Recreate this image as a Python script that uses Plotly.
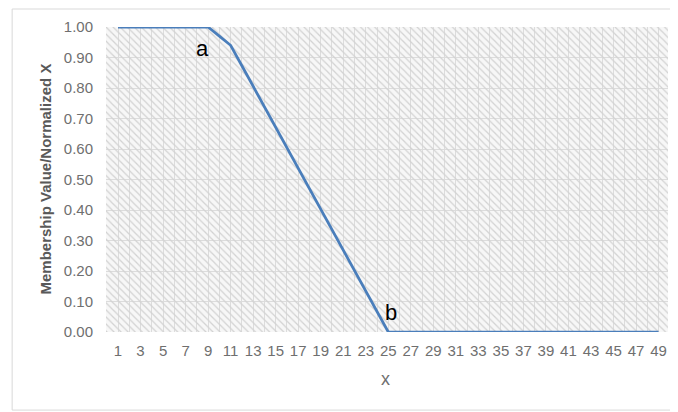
import plotly.graph_objects as go

# ---- data ----
x_values = [1, 2, 3, 4, 5, 6, 7, 8, 9, 10, 11, 12, 13, 14, 15, 16, 17, 18, 19, 20,
            21, 22, 23, 24, 25, 26, 27, 28, 29, 30, 31, 32, 33, 34, 35, 36, 37, 38, 39, 40,
            41, 42, 43, 44, 45, 46, 47, 48, 49]
membership = [1.00, 1.00, 1.00, 1.00, 1.00, 1.00, 1.00, 1.00, 1.00,
              0.970, 0.940, 0.873, 0.806, 0.739, 0.671, 0.604, 0.537, 0.470, 0.403, 0.336,
              0.269, 0.201, 0.134, 0.067, 0.000,
              0.00, 0.00, 0.00, 0.00, 0.00, 0.00, 0.00, 0.00, 0.00, 0.00, 0.00, 0.00,
              0.00, 0.00, 0.00, 0.00, 0.00, 0.00, 0.00, 0.00, 0.00, 0.00, 0.00, 0.00]
x_tick_vals = [1, 3, 5, 7, 9, 11, 13, 15, 17, 19, 21, 23, 25, 27, 29, 31, 33, 35, 37, 39,
               41, 43, 45, 47, 49]
x_tick_text = [str(v) for v in x_tick_vals]
y_tick_vals = [0.0, 0.1, 0.2, 0.3, 0.4, 0.5, 0.6, 0.7, 0.8, 0.9, 1.0]
y_tick_text = ["0.00", "0.10", "0.20", "0.30", "0.40", "0.50", "0.60", "0.70", "0.80", "0.90", "1.00"]
point_labels = ["a", "b"]
label_x = [8.46, 25.25]
label_y = [0.93, 0.063]

FONT = "Liberation Sans"
GRAY = "#6f6f6f"

x_lo, x_hi = -0.066, 49.84

fig = go.Figure()

# hatched plot-area background (decoration)
fig.add_trace(go.Bar(
    x=[(x_lo + x_hi) / 2], y=[max(y_tick_vals)], width=[x_hi - x_lo + 2],
    marker=dict(color="#d2d2d2", line=dict(width=0),
                pattern=dict(shape="\\", size=5, solidity=0.25, fgcolor="#d2d2d2",
                             fillmode="replace")),
    hoverinfo="skip", showlegend=False,
))

fig.add_trace(go.Scatter(
    x=x_values, y=membership, mode="lines",
    line=dict(color="#4a7ebb", width=2.75),
    cliponaxis=False, showlegend=False,
))

for t, xv, yv in zip(point_labels, label_x, label_y):
    fig.add_annotation(x=xv, y=yv, text=t, showarrow=False,
                       font=dict(family=FONT, size=22, color="#000000"),
                       xanchor="center", yanchor="middle")

# axis titles
fig.add_annotation(xref="paper", yref="paper", x=-0.1085, y=0.5, textangle=-90,
                   text="<b>Membership Value/Normalized X</b>", showarrow=False,
                   font=dict(family=FONT, size=15, color="#595959"),
                   xanchor="center", yanchor="middle")
fig.add_annotation(xref="paper", yref="paper", x=0.498, y=-0.154, text="x",
                   showarrow=False, font=dict(family=FONT, size=18, color=GRAY),
                   xanchor="center", yanchor="middle")

# chart border
fig.add_shape(type="rect", xref="paper", yref="paper",
              x0=-0.167, x1=1.016, y0=-0.256, y1=1.059,
              line=dict(color="#d9d9d9", width=1), fillcolor="rgba(0,0,0,0)", layer="below")

fig.update_layout(
    width=670, height=404,
    margin=dict(l=98, r=10, t=19, b=80),
    paper_bgcolor="#ffffff", plot_bgcolor="#f7f7f7",
    bargap=0,
    xaxis=dict(range=[x_lo, x_hi], tickmode="array", tickvals=x_tick_vals, ticktext=x_tick_text,
               showgrid=True, gridcolor="#dcdcdc", gridwidth=1,
               minor=dict(dtick=1, tick0=0, showgrid=True, gridcolor="#dcdcdc", gridwidth=1),
               zeroline=False, showline=False, ticks="",
               tickfont=dict(family=FONT, size=15, color=GRAY), ticklabelstandoff=8),
    yaxis=dict(range=[0, 1.0], tickmode="array", tickvals=y_tick_vals, ticktext=y_tick_text,
               showgrid=True, gridcolor="#dcdcdc", gridwidth=1,
               zeroline=False, showline=False, ticks="",
               tickfont=dict(family=FONT, size=15, color=GRAY), ticklabelstandoff=12),
)

fig.write_html("out.html")
